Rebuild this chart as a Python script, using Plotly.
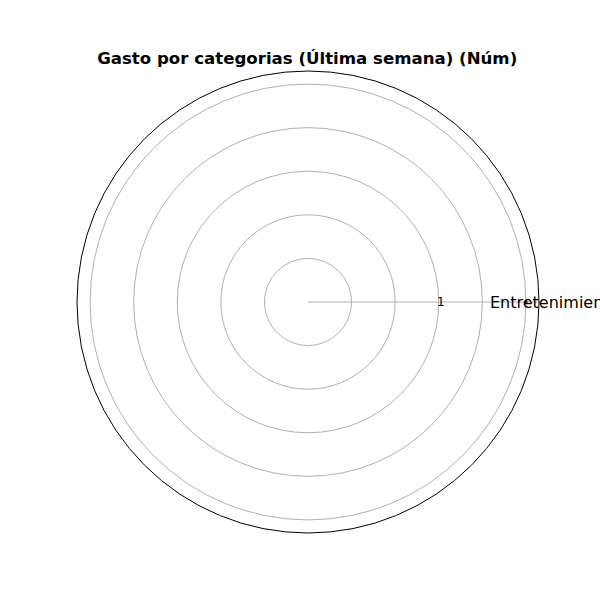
import plotly.graph_objects as go

categories = ["Entretenimiento"]
values = [5]
radial_ticks = [1, 2, 3, 4, 5]
radial_ticktext = ["", "", "1", "", ""]
title_text = "<b>Gasto por categorias (Última semana) (Núm)</b>"

R_MAX = 5.3
cx, cy, rad = 308 / 600, 1 - 302 / 600, 231 / 600

fig = go.Figure()
fig.add_trace(go.Scatterpolar(
    r=values + values[:1],
    theta=categories + categories[:1],
    mode="lines+markers",
    line=dict(color="#1f1f1f", width=1.5),
    marker=dict(color="#1f1f1f", size=3),
    fill="toself",
    fillcolor="rgba(31,119,180,0.25)",
    showlegend=False,
))

annotations = []
for tv, tt in zip(radial_ticks, radial_ticktext):
    if tt:
        annotations.append(dict(
            text=tt, x=cx + tv / R_MAX * rad + 2 / 600, y=cy, xref="paper", yref="paper",
            xanchor="center", yanchor="middle", showarrow=False,
            font=dict(size=12, color="black", family="DejaVu Sans"),
        ))
annotations.append(dict(
    text=categories[0], x=488 / 600, y=cy, xref="paper", yref="paper",
    xanchor="left", yanchor="middle", showarrow=False,
    font=dict(size=16, color="black", family="DejaVu Sans"),
))

fig.update_layout(
    width=600, height=600,
    paper_bgcolor="white",
    margin=dict(l=0, r=0, t=0, b=0),
    font=dict(family="DejaVu Sans", color="black"),
    title=dict(text=title_text, x=0.512, xanchor="center", y=1 - 58 / 600, yanchor="middle",
               font=dict(size=16.6, family="DejaVu Sans", color="black")),
    annotations=annotations,
    polar=dict(
        domain=dict(x=[77 / 600, 539 / 600], y=[67 / 600, 529 / 600]),
        bgcolor="white",
        radialaxis=dict(
            range=[0, R_MAX], tickvals=radial_ticks, showticklabels=False,
            angle=0, showline=False, ticks="", gridcolor="#b0b0b0", gridwidth=1,
        ),
        angularaxis=dict(
            direction="counterclockwise", rotation=0, type="category",
            showline=True, linecolor="black", linewidth=1,
            gridcolor="#b0b0b0", gridwidth=1, ticks="", showticklabels=False,
        ),
    ),
)

fig.write_html("out.html")
